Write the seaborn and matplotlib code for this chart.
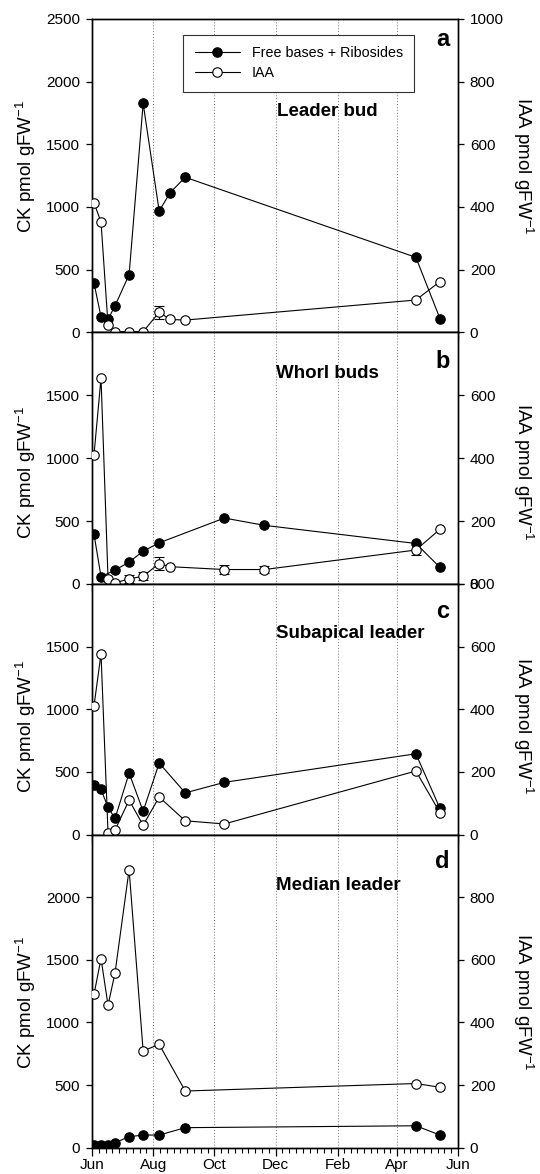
import numpy as np
import pandas as pd
import matplotlib
matplotlib.use("Agg")
import matplotlib.pyplot as plt
import matplotlib.dates as mdates
import matplotlib.ticker as mticker
import seaborn as sns

# ---------------- data ----------------
# panel a : Leader bud
a_dates = ["2001-06-03", "2001-06-10", "2001-06-17", "2001-06-24", "2001-07-08", "2001-07-22",
           "2001-08-07", "2001-08-18", "2001-09-02", "2002-04-20", "2002-05-14"]
a_ck = [392, 124, 104, 212, 460, 1826, 968, 1115, 1237, 598, 110]
a_iaa = [413, 352, 23, 2, 2, 2, 64, 41, 39, 103, 162]
a_iaa_err = [0, 0, 0, 0, 0, 0, 20, 0, 0, 0, 0]

# panel b : Whorl buds
b_ck_dates = ["2001-06-03", "2001-06-10", "2001-06-24", "2001-07-08", "2001-07-22", "2001-08-07",
              "2001-10-11", "2001-11-20", "2002-04-20", "2002-05-14"]
b_ck = [395, 58, 110, 174, 261, 327, 524, 466, 322, 132]
b_iaa_dates = ["2001-06-03", "2001-06-10", "2001-06-17", "2001-06-24", "2001-07-08", "2001-07-22",
               "2001-08-07", "2001-08-18", "2001-10-11", "2001-11-20", "2002-04-20", "2002-05-14"]
b_iaa = [411, 654, 17, 4, 16, 25, 65, 55, 46, 46, 108, 174]
b_iaa_err = [0, 0, 0, 0, 12, 12, 20, 0, 14, 10, 16, 0]

# panel c : Subapical leader
c_dates = ["2001-06-03", "2001-06-10", "2001-06-17", "2001-06-24", "2001-07-08", "2001-07-22",
           "2001-08-07", "2001-09-02", "2001-10-11", "2002-04-20", "2002-05-14"]
c_ck = [394, 360, 217, 129, 491, 187, 571, 333, 417, 645, 209]
c_iaa = [411, 577, 4, 15, 110, 30, 120, 44, 34, 203, 70]

# panel d : Median leader
d_dates = ["2001-06-03", "2001-06-10", "2001-06-17", "2001-06-24", "2001-07-08", "2001-07-22",
           "2001-08-07", "2001-09-02", "2002-04-20", "2002-05-14"]
d_ck = [18, 18, 20, 40, 88, 101, 101, 160, 175, 101]
d_iaa = [490, 604, 455, 559, 888, 309, 330, 181, 205, 193]

panel_titles = ["Leader bud", "Whorl buds", "Subapical leader", "Median leader"]
panel_letters = ["a", "b", "c", "d"]
legend_labels = ["Free bases + Ribosides", "IAA"]
ck_label = "CK pmol gFW$^{-1}$"
iaa_label = "IAA pmol gFW$^{-1}$"

# ---------------- style ----------------
sns.set_theme(style="ticks")
plt.rcParams["font.family"] = ["Liberation Sans", "DejaVu Sans"]
plt.rcParams["mathtext.fontset"] = "custom"
plt.rcParams["mathtext.rm"] = "Liberation Sans"
plt.rcParams["mathtext.it"] = "Liberation Sans:italic"
plt.rcParams["mathtext.bf"] = "Liberation Sans:bold"
plt.rcParams["mathtext.default"] = "regular"
for k in ["axes.edgecolor", "xtick.color", "ytick.color", "text.color", "axes.labelcolor"]:
    plt.rcParams[k] = "black"

W, H = 540, 1174
fig = plt.figure(figsize=(W / 100, H / 100), dpi=100)

# panel geometry in pixels (top, bottom)
px_left, px_right = 92, 458
rows = [(19, 332.3), (332.3, 584), (584, 834.6), (834.6, 1147.7)]

panels = [
    dict(ck_d=a_dates, ck=a_ck, iaa_d=a_dates, iaa=a_iaa, err=a_iaa_err,
         ylim=2500, yt=[0, 500, 1000, 1500, 2000, 2500], rlim=1000, rt=[0, 200, 400, 600, 800, 1000],
         title_xy=(0.505, 0.704), letter_xy=(0.976, 0.935), lab_y=166),
    dict(ck_d=b_ck_dates, ck=b_ck, iaa_d=b_iaa_dates, iaa=b_iaa, err=b_iaa_err,
         ylim=2000, yt=[0, 500, 1000, 1500], rlim=800, rt=[0, 200, 400, 600],
         title_xy=(0.503, 0.836), letter_xy=(0.978, 0.885), lab_y=472),
    dict(ck_d=c_dates, ck=c_ck, iaa_d=c_dates, iaa=c_iaa, err=None,
         ylim=2000, yt=[0, 500, 1000, 1500], rlim=800, rt=[0, 200, 400, 600, 800],
         title_xy=(0.503, 0.803), letter_xy=(0.976, 0.892), lab_y=726),
    dict(ck_d=d_dates, ck=d_ck, iaa_d=d_dates, iaa=d_iaa, err=None,
         ylim=2500, yt=[0, 500, 1000, 1500, 2000], rlim=1000, rt=[0, 200, 400, 600, 800],
         title_xy=(0.503, 0.839), letter_xy=(0.976, 0.915), lab_y=1002),
]

x0 = pd.Timestamp("2001-06-01")
x1 = pd.Timestamp("2002-06-01")
majors = pd.to_datetime(["2001-06-01", "2001-08-01", "2001-10-01", "2001-12-01",
                         "2002-02-01", "2002-04-01", "2002-06-01"])
maj_num = mdates.date2num(majors)
minor_pos = []
for i in range(len(maj_num) - 1):
    minor_pos.extend(list(np.linspace(maj_num[i], maj_num[i + 1], 10)[1:-1]))

lw = 0.8
ms = 6.8
tick_fs = 11

for i, p in enumerate(panels):
    top, bot = rows[i]
    rect = [px_left / W, 1 - bot / H, (px_right - px_left) / W, (bot - top) / H]
    ax = fig.add_axes(rect)
    ax2 = ax.twinx()

    sns.lineplot(x=pd.to_datetime(p["ck_d"]), y=p["ck"], ax=ax, color="black", marker="o",
                 markersize=ms, markerfacecolor="black", markeredgecolor="black",
                 markeredgewidth=0.8, linewidth=lw, errorbar=None, legend=False, zorder=3)
    sns.lineplot(x=pd.to_datetime(p["iaa_d"]), y=p["iaa"], ax=ax2, color="black", marker="o",
                 markersize=ms, markerfacecolor="white", markeredgecolor="black",
                 markeredgewidth=0.8, linewidth=lw, errorbar=None, legend=False, zorder=3)
    if p["err"] is not None:
        e = np.array(p["err"], dtype=float)
        m = e > 0
        ax2.errorbar(pd.to_datetime(p["iaa_d"])[m], np.array(p["iaa"], dtype=float)[m], yerr=e[m],
                     fmt="none", ecolor="black", elinewidth=0.8, capsize=3.5, capthick=0.8, zorder=2)

    ax.set_xlim(x0, x1)
    ax.set_ylim(0, p["ylim"])
    ax2.set_ylim(0, p["rlim"])
    ax.set_yticks(p["yt"])
    ax.set_yticklabels([str(v) for v in p["yt"]])
    ax2.set_yticks(p["rt"])
    ax2.set_yticklabels([str(v) for v in p["rt"]])

    ax.xaxis.set_major_locator(mticker.FixedLocator(maj_num))
    ax.xaxis.set_major_formatter(mdates.DateFormatter("%b"))
    ax.xaxis.set_minor_locator(mticker.FixedLocator(minor_pos))
    ax.grid(True, axis="x", which="major", linestyle=(0, (1, 2)), color="0.45", linewidth=0.7)
    ax.set_xlabel("")
    ax.set_ylabel("")
    ax2.set_ylabel("")

    ax.tick_params(axis="x", which="major", direction="out", length=6, width=0.9,
                   labelsize=11, pad=1.5, labelbottom=(i == 3))
    ax.tick_params(axis="x", which="minor", direction="out", length=3.5, width=0.8)
    ax.tick_params(axis="y", direction="out", length=4.5, width=0.9, labelsize=tick_fs, pad=4)
    ax2.tick_params(axis="y", direction="out", length=4.5, width=0.9, labelsize=tick_fs, pad=4)
    for a_ in (ax, ax2):
        for s in a_.spines.values():
            s.set_linewidth(1.0)
            s.set_color("black")

    ax2.text(p["title_xy"][0], p["title_xy"][1], panel_titles[i], transform=ax.transAxes,
             ha="left", va="center", fontsize=13.5, fontweight="bold")
    ax2.text(p["letter_xy"][0], p["letter_xy"][1], panel_letters[i], transform=ax.transAxes,
             ha="right", va="center", fontsize=17, fontweight="bold")

    fig.text(26 / W, 1 - p["lab_y"] / H, ck_label, rotation=90, ha="center", va="center",
             fontsize=13.5)
    fig.text(523 / W, 1 - p["lab_y"] / H, iaa_label, rotation=270, ha="center", va="center",
             fontsize=13.5)

    if i == 0:
        h1 = ax.lines[0]
        h2 = ax2.lines[0]
        leg = ax2.legend([h1, h2], legend_labels, loc="upper left", bbox_to_anchor=(0.249, 0.949),
                         borderaxespad=0, frameon=True, fancybox=False, edgecolor="0.2",
                         framealpha=1, fontsize=10.3, handlelength=3.2, handletextpad=0.8,
                         borderpad=0.8, labelspacing=0.4)
        leg.get_frame().set_linewidth(0.8)

fig.savefig("out.png", dpi=100)
